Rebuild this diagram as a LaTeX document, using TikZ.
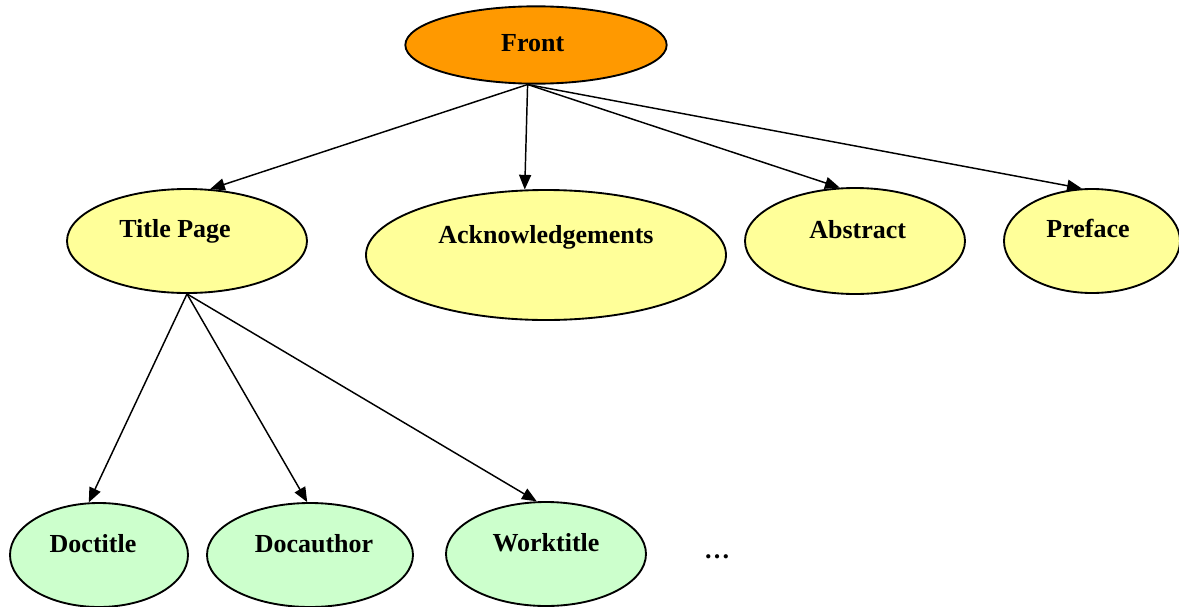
\documentclass[tikz,border=0pt]{standalone}
\usepackage{fontspec}
\setmainfont{Liberation Serif}
\usetikzlibrary{shapes.geometric,arrows.meta}
\definecolor{frontorange}{RGB}{255,153,0}
\definecolor{pageyellow}{RGB}{255,255,153}
\definecolor{leafgreen}{RGB}{204,255,204}
\tikzset{
  bubble/.style={ellipse, draw, line width=1.4pt, inner sep=0pt, text height=14pt,
    font=\fontsize{19.5}{23}\selectfont\bfseries},
  link/.style={line width=1.1pt, -{Triangle[length=11pt,width=9pt]}}
}
\begin{document}
\begin{tikzpicture}[x=0.75pt,y=0.75pt,yscale=-1]
\useasboundingbox (0,0) rectangle (1179,607);

%Shape: Ellipse 
\node [bubble, fill=frontorange, minimum width=196pt, minimum height=58pt, text depth=4.8pt] (front) at (536,45) {Front\hspace*{5pt}};
%Shape: Ellipse 
\node [bubble, fill=pageyellow, minimum width=180pt, minimum height=78pt, text depth=19pt] (titlepage) at (187,241) {Title Page\hspace*{18pt}};
%Shape: Ellipse 
\node [bubble, fill=pageyellow, minimum width=270pt, minimum height=97.5pt, text depth=31pt] (ack) at (546,255) {Acknowledgements};
%Shape: Ellipse 
\node [bubble, fill=pageyellow, minimum width=165pt, minimum height=79.5pt, text depth=17.5pt] (abstract) at (855,241) {\hspace*{4pt}Abstract};
%Shape: Ellipse 
\node [bubble, fill=pageyellow, minimum width=132pt, minimum height=78pt, text depth=19pt] (preface) at (1092,241) {Preface\hspace*{6pt}};
%Shape: Ellipse 
\node [bubble, fill=leafgreen, minimum width=133.5pt, minimum height=78pt, text depth=17.5pt] (doctitle) at (99,555) {Doctitle\hspace*{9pt}};
%Shape: Ellipse 
\node [bubble, fill=leafgreen, minimum width=154.5pt, minimum height=78pt, text depth=17.5pt] (docauthor) at (310,555) {\hspace*{6pt}Docauthor};
%Shape: Ellipse 
\node [bubble, fill=leafgreen, minimum width=150pt, minimum height=78pt, text depth=17.5pt] (worktitle) at (546,554) {Worktitle};

% Text Node
\node [font=\fontsize{19.5}{23}\selectfont\bfseries, anchor=base, inner sep=0pt] (more) at (717,558) {…};

%Straight Lines 
\draw [link] (front.258) -- (titlepage.66);
\draw [link] (front.258) -- (ack.108);
\draw [link] (front.258) -- (abstract.106);
\draw [link] (front.258) -- (preface.101);
%Straight Lines 
\draw [link] (titlepage.south) -- (doctitle.101);
\draw [link] (titlepage.south) -- (docauthor.93);
\draw [link] (titlepage.south) -- (worktitle.100);

\end{tikzpicture}
\end{document}
